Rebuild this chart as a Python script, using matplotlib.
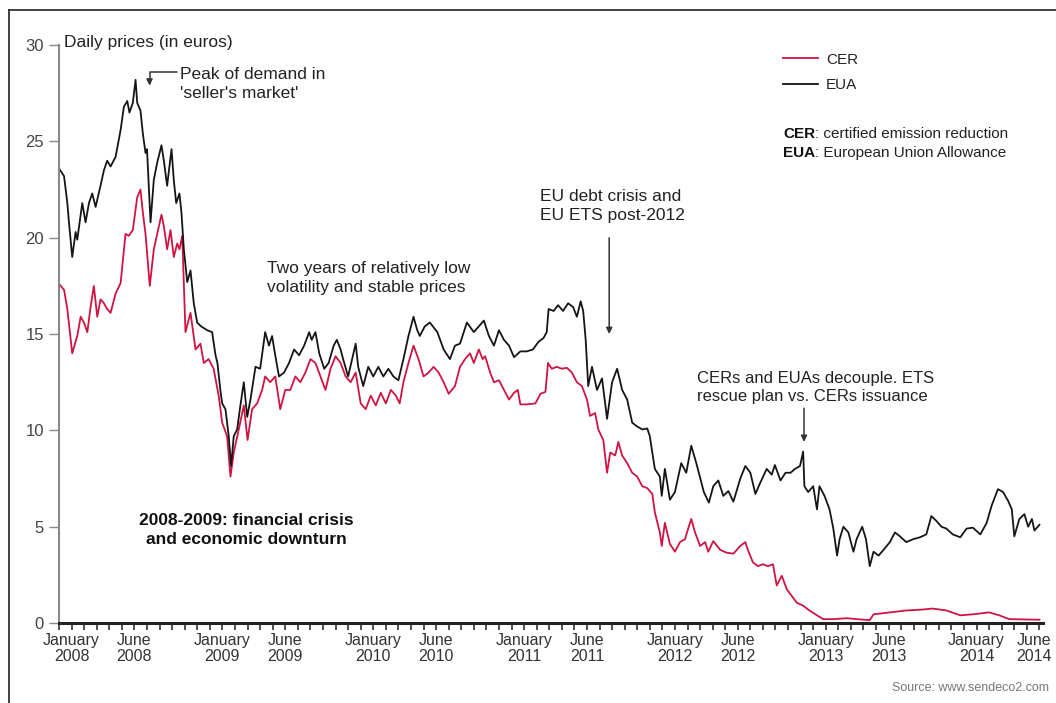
import numpy as np
import matplotlib
matplotlib.use("Agg")
import matplotlib.pyplot as plt
from matplotlib.lines import Line2D
from matplotlib.transforms import ScaledTranslation

plt.rcParams['font.family'] = ['Liberation Sans Narrow', 'Liberation Sans', 'DejaVu Sans']

# months counted from January 2008 (0 = Jan 2008, 12 = Jan 2009 ...)
eua_month = [-1.0, -0.6, -0.34, -0.21, 0.05, 0.32, 0.45, 0.85, 1.11, 1.38, 1.64, 1.91,
             2.3, 2.57, 2.83, 3.1, 3.5, 3.9, 4.16, 4.43, 4.6, 4.87, 5.09, 5.22, 5.48,
             5.67, 5.88, 6.0, 6.28, 6.54, 6.81, 7.15, 7.34, 7.6, 7.95, 8.13, 8.32, 8.58,
             8.74, 8.93, 9.2, 9.46, 9.72, 9.99, 10.3, 10.79, 11.18, 11.45, 11.6, 11.85,
             11.98, 12.24, 12.5, 12.69, 12.9, 13.17, 13.43, 13.7, 13.97, 14.23, 14.63,
             15.0, 15.4, 15.7, 15.95, 16.2, 16.5, 16.9, 17.3, 17.7, 18.1, 18.5, 18.9,
             19.1, 19.4, 19.7, 20.1, 20.45, 20.85, 21.1, 21.4, 21.6, 22.0, 22.6, 22.8,
             23.2, 23.6, 24.0, 24.4, 24.8, 25.2, 25.6, 26.0, 26.4, 26.8, 27.2, 27.5,
             27.7, 28.1, 28.5, 29.1, 29.6, 30.1, 30.5, 30.9, 31.45, 32.0, 32.4, 32.8,
             33.2, 33.6, 34.0, 34.4, 34.8, 35.2, 35.7, 36.2, 36.7, 37.15, 37.55, 37.8,
             37.95, 38.35, 38.7, 39.1, 39.5, 39.9, 40.2, 40.5, 40.7, 40.9, 41.1, 41.4,
             41.8, 42.2, 42.6, 43.0, 43.4, 43.8, 44.2, 44.6, 45.0, 45.4, 45.8, 46.0,
             46.4, 46.8, 46.95, 47.2, 47.6, 48.0, 48.5, 48.9, 49.3, 49.7, 50.3, 50.7,
             51.05, 51.45, 51.85, 52.25, 52.65, 53.2, 53.6, 54.0, 54.4, 54.8, 55.3,
             55.7, 55.95, 56.4, 56.8, 57.2, 57.55, 57.95, 58.2, 58.3, 58.6, 59.0, 59.3,
             59.5, 59.9, 60.3, 60.6, 60.9, 61.1, 61.4, 61.8, 62.2, 62.45, 62.9, 63.2,
             63.5, 63.8, 64.2, 64.6, 65.1, 65.5, 65.9, 66.4, 66.95, 67.5, 68.0, 68.4,
             68.8, 69.2, 69.6, 70.1, 70.7, 71.2, 71.7, 72.3, 72.8, 73.2, 73.7, 74.1,
             74.5, 74.8, 75.0, 75.4, 75.8, 76.1, 76.4, 76.6, 77.0]
eua_price = [23.6, 23.2, 21.8, 20.8, 19.0, 20.3, 19.9, 21.8, 20.8, 21.8, 22.3, 21.6,
             22.7, 23.5, 24.0, 23.7, 24.2, 25.6, 26.8, 27.1, 26.5, 27.0, 28.2, 27.0, 26.6,
             25.4, 24.4, 24.6, 20.8, 23.0, 23.9, 24.8, 24.0, 22.7, 24.6, 23.0, 21.8, 22.3,
             21.3, 19.4, 17.7, 18.3, 16.6, 15.6, 15.4, 15.2, 15.1, 13.9, 13.5, 12.0,
             11.4, 11.1, 9.7, 8.15, 9.7, 10.05, 11.3, 12.5, 10.7, 11.6, 13.3,
             13.2, 15.1, 14.4, 14.9, 13.9, 12.8, 13.0, 13.5, 14.2, 13.9, 14.4, 15.1,
             14.7, 15.1, 14.0, 13.2, 13.5, 14.4, 14.7, 14.2, 13.7, 12.8, 14.5, 13.3,
             12.3, 13.3, 12.8, 13.3, 12.8, 13.2, 12.8, 12.6, 13.7, 14.9, 15.9, 15.2,
             14.9, 15.4, 15.6, 15.1, 14.2, 13.7, 14.4, 14.5, 15.6, 15.1, 15.4, 15.7,
             14.9, 14.4, 15.2, 14.7, 14.4, 13.8, 14.1, 14.1, 14.2, 14.6, 14.8, 15.1,
             16.3, 16.2, 16.5, 16.2, 16.6, 16.4, 15.9, 16.7, 16.2, 14.7, 12.3, 13.3,
             12.1, 12.7, 10.6, 12.5, 13.2, 12.1, 11.6, 10.4, 10.2, 10.05, 10.1, 9.7,
             8.0, 7.6, 6.6, 8.0, 6.4, 6.8, 8.3, 7.8, 9.2, 8.3, 6.8, 6.25,
             7.1, 7.4, 6.6, 6.85, 6.3, 7.5, 8.15, 7.8, 6.7, 7.3, 8.0,
             7.7, 8.2, 7.4, 7.8, 7.8, 8.0, 8.15, 8.9, 7.1, 6.8, 7.1, 5.9,
             7.1, 6.6, 5.9, 4.9, 3.5, 4.35, 5.0, 4.7, 3.7, 4.35, 5.0, 4.35,
             2.95, 3.7, 3.5, 3.8, 4.2, 4.7, 4.5, 4.2, 4.35, 4.45, 4.6, 5.55,
             5.3, 5.0, 4.9, 4.6, 4.45, 4.9, 4.95, 4.6, 5.2, 6.1, 6.95, 6.8,
             6.35, 5.9, 4.5, 5.4, 5.65, 5.0, 5.4, 4.8, 5.1]

cer_month = [-1.0, -0.6, -0.34, 0.05, 0.45, 0.72, 0.98, 1.25, 1.51, 1.77, 2.04, 2.3,
             2.57, 2.83, 3.1, 3.5, 3.9, 4.29, 4.55, 4.87, 5.22, 5.48, 5.67, 5.88, 6.22,
             6.54, 6.81, 7.15, 7.34, 7.6, 7.87, 8.13, 8.4, 8.58, 8.8, 9.06, 9.46, 9.86,
             10.25, 10.52, 10.9, 11.3, 11.7, 11.98, 12.37, 12.64, 12.9, 13.3, 13.7, 14.0,
             14.36, 14.76, 15.16, 15.4, 15.8, 16.2, 16.6, 17.0, 17.4, 17.8, 18.2, 18.6,
             19.0, 19.4, 19.8, 20.2, 20.6, 21.0, 21.4, 21.8, 22.2, 22.6, 23.0, 23.4,
             23.8, 24.2, 24.6, 25.0, 25.4, 25.8, 26.1, 26.4, 26.8, 27.2, 27.6, 28.0,
             28.4, 28.8, 29.2, 29.6, 30.0, 30.5, 30.9, 31.3, 31.7, 32.0, 32.4, 32.7,
             32.9, 33.3, 33.6, 34.0, 34.4, 34.8, 35.2, 35.5, 35.7, 36.2, 36.9, 37.3,
             37.7, 37.9, 38.2, 38.6, 39.0, 39.4, 39.8, 40.2, 40.6, 41.0, 41.25, 41.65,
             41.9, 42.3, 42.6, 42.85, 43.25, 43.5, 43.8, 44.2, 44.6, 45.0, 45.4, 45.8,
             46.2, 46.4, 46.8, 46.95, 47.2, 47.6, 48.0, 48.4, 48.8, 49.1, 49.3, 49.6,
             50.0, 50.4, 50.65, 51.05, 51.6, 52.1, 52.65, 53.2, 53.6, 53.8, 54.2, 54.6,
             55.0, 55.4, 55.8, 56.1, 56.5, 56.9, 57.3, 57.7, 58.2, 58.7, 59.3, 59.8,
             60.6, 61.7, 62.45, 63.5, 63.8, 65.1, 66.4, 67.75, 68.5, 69.6, 70.7, 71.7,
             73.0, 73.8, 74.6, 77.0]
cer_price = [17.6, 17.3, 16.3, 14.0, 14.9, 15.9, 15.6, 15.1, 16.4, 17.5, 15.9, 16.8,
             16.6, 16.3, 16.1, 17.1, 17.65, 20.2, 20.1, 20.4, 22.1, 22.5, 21.3, 20.2, 17.5,
             19.4, 20.2, 21.2, 20.6, 19.4, 20.4, 19.0, 19.7, 19.4, 20.1, 15.1, 16.1, 14.2,
             14.5, 13.5, 13.7, 13.2, 11.8, 10.4, 9.7, 7.6, 8.85, 10.05, 11.3, 9.5,
             11.1, 11.4, 12.1, 12.8, 12.5, 12.8, 11.1, 12.1, 12.1, 12.8, 12.5, 13.0,
             13.7, 13.5, 12.8, 12.1, 13.2, 13.85, 13.5, 12.8, 12.5, 13.0, 11.4, 11.1,
             11.8, 11.3, 11.95, 11.4, 12.1, 11.8, 11.4, 12.5, 13.5, 14.4, 13.7, 12.8,
             13.0, 13.3, 13.0, 12.5, 11.9, 12.3, 13.3, 13.7, 14.0, 13.5, 14.2, 13.7,
             13.85, 13.0, 12.5, 12.6, 12.1, 11.6, 11.95, 12.1, 11.35, 11.35, 11.4, 11.9,
             12.0, 13.5, 13.2, 13.3, 13.2, 13.25, 13.0, 12.5, 12.3, 11.6, 10.75, 10.9,
             10.05, 9.5, 7.8, 8.85, 8.7, 9.4, 8.7, 8.3, 7.8, 7.6, 7.1, 7.0,
             6.7, 5.75, 4.7, 4.0, 5.2, 4.1, 3.7, 4.2, 4.35, 5.0, 5.4, 4.7,
             4.0, 4.2, 3.7, 4.25, 3.8, 3.65, 3.6, 4.0, 4.2, 3.8, 3.15, 2.95,
             3.05, 2.95, 3.05, 1.95, 2.45, 1.75, 1.4, 1.05, 0.9, 0.65, 0.4, 0.2,
             0.2, 0.25, 0.2, 0.15, 0.45, 0.55, 0.65, 0.7, 0.75, 0.65, 0.4, 0.45,
             0.55, 0.4, 0.2, 0.17]

label_pos = [0, 5, 12, 17, 24, 29, 36, 41, 48, 53, 60, 65, 72, 77]
label_txt = ['January\n2008', 'June\n2008', 'January\n2009', 'June\n2009',
             'January\n2010', 'June\n2010', 'January\n2011', 'June\n2011',
             'January\n2012', 'June\n2012', 'January\n2013', 'June\n2013',
             'January\n2014', 'June\n2014']

cer_color = '#cf1442'
eua_color = '#151515'
txt_color = '#222222'
note_size = 12.5
note_ls = 1.35

fig = plt.figure(figsize=(10.56, 7.03), dpi=100)
ax = fig.add_axes([0.0559, 0.1138, 0.932, 0.822])

ax.plot(cer_month, cer_price, color=cer_color, lw=1.3, label='CER')
ax.plot(eua_month, eua_price, color=eua_color, lw=1.3, label='EUA')

ax.set_xlim(-0.95, 77.3)
ax.set_ylim(0, 30)

ax.set_yticks(np.arange(0, 31, 5))
ax.set_xticks(label_pos)
ax.set_xticklabels(label_txt, linespacing=1.1)
ax.set_xticks(np.arange(-1, 78), minor=True)
ax.tick_params(axis='x', which='both', direction='out', length=5, width=1.2,
               color='#333333', labelsize=11.5, labelcolor='#333333', pad=2)
ax.tick_params(axis='y', direction='out', length=7, width=1, color='#888888',
               labelsize=12, labelcolor='#444444', pad=4)
# last label sits a little left so it stays inside the picture
last = ax.get_xticklabels()[-1]
last.set_transform(last.get_transform() + ScaledTranslation(-5 / 100, 0, fig.dpi_scale_trans))

for s in ['top', 'right']:
    ax.spines[s].set_visible(False)
ax.spines['left'].set_color('#888888')
ax.spines['left'].set_linewidth(1.5)
ax.spines['bottom'].set_color('#222222')
ax.spines['bottom'].set_linewidth(2.2)

# text and annotations
ax.text(-0.64, 30.15, 'Daily prices (in euros)', fontsize=note_size, color=txt_color,
        va='center', ha='left', clip_on=False)

ax.text(8.66, 27.98, "Peak of demand in\n'seller's market'", fontsize=note_size,
        color=txt_color, va='center', ha='left', linespacing=note_ls)
ax.annotate('', xy=(6.2, 27.9), xytext=(8.4, 28.6),
            arrowprops=dict(arrowstyle='-|>', color='#333333', lw=1.1,
                            connectionstyle='angle,angleA=0,angleB=90,rad=0',
                            shrinkA=0, shrinkB=0, mutation_scale=9))

ax.text(15.58, 17.93, 'Two years of relatively low\nvolatility and stable prices',
        fontsize=note_size, color=txt_color, va='center', ha='left', linespacing=note_ls)

ax.text(37.28, 21.66, 'EU debt crisis and\nEU ETS post-2012', fontsize=note_size,
        color=txt_color, va='center', ha='left', linespacing=note_ls)
ax.annotate('', xy=(42.77, 15.0), xytext=(42.77, 20.0),
            arrowprops=dict(arrowstyle='-|>', color='#333333', lw=1.1,
                            shrinkA=0, shrinkB=0, mutation_scale=9))

ax.text(49.76, 12.23, 'CERs and EUAs decouple. ETS\nrescue plan vs. CERs issuance',
        fontsize=12, color=txt_color, va='center', ha='left', linespacing=1.3)
ax.annotate('', xy=(58.27, 9.4), xytext=(58.27, 11.15),
            arrowprops=dict(arrowstyle='-|>', color='#333333', lw=1.1,
                            shrinkA=0, shrinkB=0, mutation_scale=9))

ax.text(13.9, 4.84, '2008-2009: financial crisis\nand economic downturn',
        fontsize=12.5, fontweight='bold', color='#111111', va='center',
        ha='center', multialignment='center', linespacing=1.3)

# legend and definitions
leg = fig.legend(loc='upper left', bbox_to_anchor=(0.7415, 0.925), frameon=False,
                 fontsize=11, handlelength=2.3, handletextpad=0.5,
                 labelspacing=0.75, borderpad=0, borderaxespad=0)
for t in leg.get_texts():
    t.set_color(txt_color)

t1 = fig.text(0.7415, 0.8094, 'CER', fontsize=11, fontweight='bold',
              color='#111111', va='center', ha='left')
ax.annotate(': certified emission reduction', xy=(1, 0), xycoords=t1,
            fontsize=11, color=txt_color, va='bottom', ha='left')
t2 = fig.text(0.7415, 0.7824, 'EUA', fontsize=11, fontweight='bold',
              color='#111111', va='center', ha='left')
ax.annotate(': European Union Allowance', xy=(1, 0), xycoords=t2,
            fontsize=11, color=txt_color, va='bottom', ha='left')

fig.text(0.993, 0.021, 'Source: www.sendeco2.com', fontsize=9, color='#777777',
         ha='right', va='center')

# frame lines (top and left edge of the panel)
fig.add_artist(Line2D([0.0085, 1.0], [0.9858, 0.9858], color='#333333', lw=1.3))
fig.add_artist(Line2D([0.0085, 0.0085], [0.0, 0.9858], color='#333333', lw=1.3))

fig.savefig('out.png', dpi=100)
